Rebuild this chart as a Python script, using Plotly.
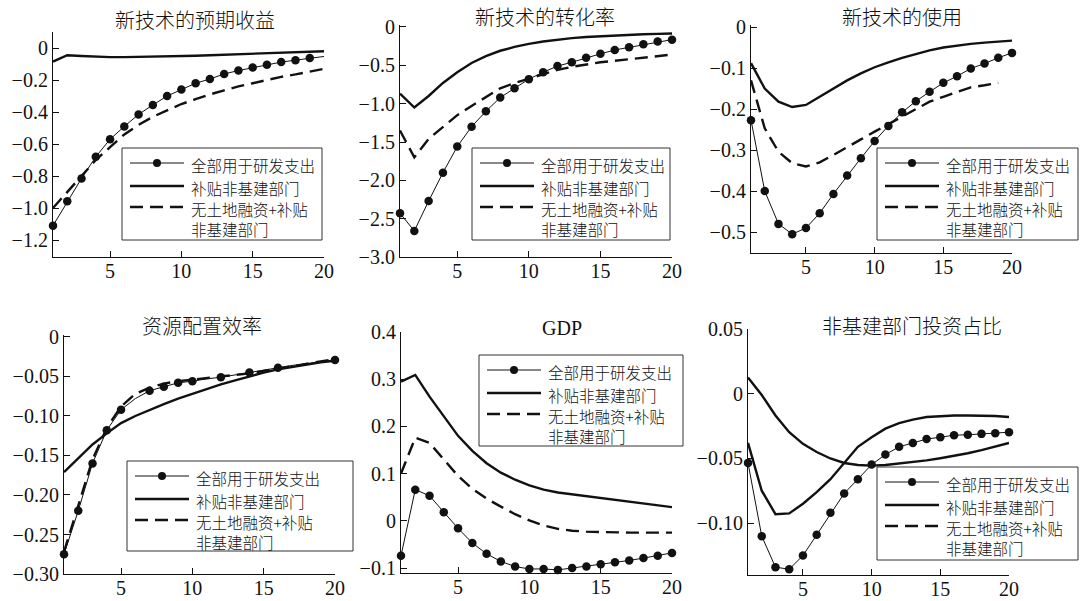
import plotly.graph_objects as go

# ---------------- data ----------------
periods = list(range(1, 21))
series_names = ["全部用于研发支出", "补贴非基建部门", "无土地融资+补贴<br>非基建部门"]
titles = ["新技术的预期收益", "新技术的转化率", "新技术的使用", "资源配置效率", "GDP", "非基建部门投资占比"]

# Panel 1: 新技术的预期收益
p1_rd = [-1.11, -0.958, -0.815, -0.68, -0.57, -0.49, -0.415, -0.356, -0.30, -0.26,
         -0.22, -0.194, -0.162, -0.141, -0.122, -0.105, -0.088, -0.076, -0.063, -0.053]
p1_sub = [-0.085, -0.045, -0.05, -0.055, -0.057, -0.057, -0.056, -0.055, -0.053, -0.050,
          -0.048, -0.045, -0.042, -0.040, -0.037, -0.034, -0.031, -0.028, -0.025, -0.020]
p1_noland = [-1.0, -0.90, -0.80, -0.70, -0.62, -0.54, -0.48, -0.43, -0.39, -0.35,
             -0.32, -0.29, -0.265, -0.24, -0.22, -0.20, -0.18, -0.165, -0.148, -0.13]

# Panel 2: 新技术的转化率
p2_rd = [-2.43, -2.66, -2.27, -1.90, -1.56, -1.30, -1.10, -0.92, -0.80, -0.68,
         -0.59, -0.51, -0.46, -0.40, -0.35, -0.30, -0.265, -0.226, -0.19, -0.165]
p2_sub = [-0.87, -1.05, -0.90, -0.73, -0.59, -0.47, -0.38, -0.31, -0.26, -0.22,
          -0.19, -0.165, -0.145, -0.13, -0.12, -0.11, -0.10, -0.095, -0.09, -0.085]
p2_noland = [-1.35, -1.70, -1.46, -1.30, -1.15, -1.03, -0.91, -0.80, -0.73, -0.67,
             -0.61, -0.56, -0.52, -0.49, -0.46, -0.44, -0.42, -0.40, -0.38, -0.36]

# Panel 3: 新技术的使用
p3_rd = [-0.227, -0.40, -0.48, -0.505, -0.49, -0.454, -0.407, -0.362, -0.32, -0.278,
         -0.241, -0.208, -0.181, -0.158, -0.136, -0.12, -0.101, -0.089, -0.075, -0.063]
p3_sub = [-0.088, -0.15, -0.182, -0.195, -0.19, -0.17, -0.15, -0.13, -0.113, -0.098,
          -0.086, -0.075, -0.066, -0.057, -0.05, -0.045, -0.041, -0.038, -0.035, -0.033]
p3_noland = [-0.13, -0.247, -0.304, -0.332, -0.34, -0.33, -0.312, -0.292, -0.274, -0.255,
             -0.237, -0.219, -0.199, -0.182, -0.17, -0.158, -0.147, -0.142, -0.136]

# Panel 4: 资源配置效率
p4_rd = [-0.275, -0.22, -0.16, -0.118, -0.092, -0.078, -0.068, -0.063, -0.058, -0.056,
         -0.053, -0.051, -0.048, -0.045, -0.042, -0.039, -0.036, -0.034, -0.031, -0.029]
p4_sub = [-0.171, -0.153, -0.136, -0.122, -0.109, -0.100, -0.092, -0.085, -0.078, -0.072,
          -0.066, -0.060, -0.055, -0.050, -0.045, -0.041, -0.038, -0.035, -0.032, -0.030]
p4_noland = [-0.272, -0.215, -0.155, -0.115, -0.088, -0.072, -0.064, -0.059, -0.056, -0.054,
             -0.052, -0.050, -0.048, -0.046, -0.043, -0.040, -0.037, -0.034, -0.031, -0.028]

# Panel 5: GDP
p5_rd = [-0.074, 0.066, 0.053, 0.018, -0.016, -0.047, -0.07, -0.086, -0.097, -0.102,
         -0.102, -0.104, -0.10, -0.097, -0.092, -0.088, -0.084, -0.079, -0.074, -0.068]
p5_sub = [0.295, 0.309, 0.263, 0.221, 0.180, 0.148, 0.122, 0.102, 0.087, 0.075,
          0.066, 0.060, 0.056, 0.052, 0.048, 0.044, 0.040, 0.036, 0.032, 0.029]
p5_noland = [0.100, 0.176, 0.165, 0.13, 0.095, 0.068, 0.047, 0.030, 0.014, 0.001,
             -0.010, -0.017, -0.021, -0.023, -0.024, -0.025, -0.025, -0.025, -0.025, -0.025]

# Panel 6: 非基建部门投资占比
p6_rd = [-0.0534, -0.110, -0.134, -0.1355, -0.125, -0.109, -0.092, -0.077, -0.066, -0.0547,
         -0.047, -0.041, -0.038, -0.035, -0.0336, -0.032, -0.0317, -0.031, -0.0305, -0.0297]
p6_sub = [0.0125, -0.001, -0.0168, -0.0297, -0.0387, -0.045, -0.050, -0.0535, -0.055, -0.0555,
          -0.055, -0.054, -0.053, -0.0515, -0.0498, -0.048, -0.046, -0.0435, -0.041, -0.038]
p6_noland = [-0.038, -0.0749, -0.093, -0.0924, -0.085, -0.076, -0.066, -0.0537, -0.041, -0.0336,
             -0.027, -0.0227, -0.020, -0.018, -0.0173, -0.0168, -0.0168, -0.0168, -0.0172, -0.018]

x_ticks = [5, 10, 15, 20]
y_ticks = [
    ([0, -0.2, -0.4, -0.6, -0.8, -1.0, -1.2], ["0", "−0.2", "−0.4", "−0.6", "−0.8", "−1.0", "−1.2"]),
    ([0, -0.5, -1.0, -1.5, -2.0, -2.5, -3.0], ["0", "−0.5", "−1.0", "−1.5", "−2.0", "−2.5", "−3.0"]),
    ([0, -0.1, -0.2, -0.3, -0.4, -0.5], ["0", "−0.1", "−0.2", "−0.3", "−0.4", "−0.5"]),
    ([0, -0.05, -0.10, -0.15, -0.20, -0.25, -0.30], ["0", "−0.05", "−0.10", "−0.15", "−0.20", "−0.25", "−0.30"]),
    ([0.4, 0.3, 0.2, 0.1, 0, -0.1], ["0.4", "0.3", "0.2", "0.1", "0", "−0.1"]),
    ([0.05, 0, -0.05, -0.10], ["0.05", "0", "−0.05", "−0.10"]),
]

# ---------------- layout / style ----------------
W, H = 1082, 601
# axes boxes in pixels: (left, right, top, bottom)
boxes = [(53, 324, 32, 257), (400, 672, 25, 257), (751, 1012, 25, 253),
         (64, 335, 335, 574), (401, 672, 332, 573), (748, 1009, 329, 575)]
y_ranges = [[-1.306, 0.1], [-3.0, 0.026], [-0.551, 0.005], [-0.30, 0.0025], [-0.1106, 0.4], [-0.14, 0.05]]
# legend boxes: (left, top, width, height)
legend_boxes = [(122, 148, 200, 92), (472, 148, 198, 92), (877, 148, 201, 92),
                (127, 461, 226, 90), (479, 355, 204, 91), (877, 467, 201, 93)]
title_pos = [(195, 20), (545, 17), (902, 17), (202, 325), (562, 328), (912, 325)]

panels = [
    (p1_rd, p1_sub, p1_noland),
    (p2_rd, p2_sub, p2_noland),
    (p3_rd, p3_sub, p3_noland),
    (p4_rd, p4_sub, p4_noland),
    (p5_rd, p5_sub, p5_noland),
    (p6_rd, p6_sub, p6_noland),
]

MS = 8.5
marker_sizes = [
    [MS] * 19 + [0],
    [MS] * 20,
    [MS] * 20,
    [MS if p in (1, 2, 3, 4, 5, 7, 8, 9, 10, 12, 14, 16, 20) else 0 for p in periods],
    [MS] * 20,
    [MS] * 20,
]
dash_style = "13px,7px"
dashed_drawn = [dash_style] * 5 + ["solid"]

SERIF = "Liberation Serif"
CJK = "Noto Sans CJK SC"
INK = "#111111"
LEG_FONT = 15.5


def px_x(v):
    return v / W


def px_y(v):
    return 1 - v / H


fig = go.Figure()
layout = dict(width=W, height=H, margin=dict(l=0, r=0, t=0, b=0, pad=0, autoexpand=False),
              paper_bgcolor="white", plot_bgcolor="white", showlegend=False,
              font=dict(family=SERIF, size=20, color=INK),
              annotations=[], shapes=[])

for i, (rd, sub, noland) in enumerate(panels):
    k = i + 1
    xa = "x" if k == 1 else f"x{k}"
    ya = "y" if k == 1 else f"y{k}"
    fig.add_trace(go.Scatter(x=periods[:len(noland)], y=noland, mode="lines", xaxis=xa, yaxis=ya,
                             line=dict(color=INK, width=2.4, dash=dashed_drawn[i]),
                             hoverinfo="skip"))
    fig.add_trace(go.Scatter(x=periods[:len(sub)], y=sub, mode="lines", xaxis=xa, yaxis=ya,
                             line=dict(color=INK, width=2.4), hoverinfo="skip"))
    fig.add_trace(go.Scatter(x=periods[:len(rd)], y=rd, mode="lines+markers", xaxis=xa, yaxis=ya,
                             line=dict(color=INK, width=1),
                             marker=dict(size=marker_sizes[i], color=INK, opacity=1,
                                         line=dict(width=0)),
                             opacity=1, cliponaxis=False, hoverinfo="skip"))

    l, r, t, b = boxes[i]
    axis_common = dict(showline=True, linecolor=INK, linewidth=1.2, ticks="inside", ticklen=6,
                       tickcolor=INK, tickwidth=1.2, showgrid=False, zeroline=False,
                       automargin=False,
                       tickfont=dict(family=SERIF, size=20, color=INK), fixedrange=True)
    layout["xaxis" if k == 1 else f"xaxis{k}"] = dict(
        domain=[px_x(l), px_x(r)], range=[1, 20], anchor=ya, tickvals=x_ticks,
        ticktext=[str(v) for v in x_ticks], ticklabelstandoff=-4, **axis_common)
    layout["yaxis" if k == 1 else f"yaxis{k}"] = dict(
        domain=[px_y(b), px_y(t)], range=y_ranges[i], anchor=xa,
        tickvals=y_ticks[i][0], ticktext=y_ticks[i][1], **axis_common)

    # legend box drawn by hand
    bx, by, bw, bh = legend_boxes[i]
    layout["shapes"].append(dict(type="rect", xref="paper", yref="paper",
                                 x0=px_x(bx), x1=px_x(bx + bw), y0=px_y(by + bh), y1=px_y(by),
                                 line=dict(color="#333333", width=1), fillcolor="white", layer="above"))
    rows = [by + 15, by + 38, by + 59]
    sx0, sx1 = bx + 8, bx + 62
    layout["shapes"].append(dict(type="line", xref="paper", yref="paper",
                                 x0=px_x(sx0), x1=px_x(sx1), y0=px_y(rows[0]), y1=px_y(rows[0]),
                                 line=dict(color=INK, width=1), layer="above"))
    cx = (sx0 + sx1) / 2
    layout["shapes"].append(dict(type="circle", xref="paper", yref="paper",
                                 x0=px_x(cx - 4), x1=px_x(cx + 4), y0=px_y(rows[0] + 4), y1=px_y(rows[0] - 4),
                                 line=dict(color=INK, width=0), fillcolor=INK, layer="above"))
    layout["shapes"].append(dict(type="line", xref="paper", yref="paper",
                                 x0=px_x(sx0), x1=px_x(sx1), y0=px_y(rows[1]), y1=px_y(rows[1]),
                                 line=dict(color=INK, width=2.4), layer="above"))
    layout["shapes"].append(dict(type="line", xref="paper", yref="paper",
                                 x0=px_x(sx0), x1=px_x(sx1), y0=px_y(rows[2]), y1=px_y(rows[2]),
                                 line=dict(color=INK, width=2.4, dash=dash_style), layer="above"))
    for j, name in enumerate(series_names):
        layout["annotations"].append(dict(text=name, x=px_x(bx + 68), y=px_y(rows[j] - 10),
                                          xref="paper", yref="paper", xanchor="left", yanchor="top",
                                          align="left", showarrow=False, borderpad=0,
                                          font=dict(family=CJK, size=LEG_FONT, color=INK, weight=300)))

    tx, ty = title_pos[i]
    is_latin = titles[i] == "GDP"
    layout["annotations"].append(dict(text=titles[i], x=px_x(tx), y=px_y(ty), xref="paper", yref="paper",
                                      xanchor="center", yanchor="middle", showarrow=False,
                                      font=dict(family=SERIF if is_latin else CJK,
                                                size=20, color=INK, weight=400 if is_latin else 300)))

fig.update_layout(**layout)
fig.write_html("out.html", config={"displayModeBar": False},
               post_script="document.body.style.margin='0';document.body.style.padding='0';")
